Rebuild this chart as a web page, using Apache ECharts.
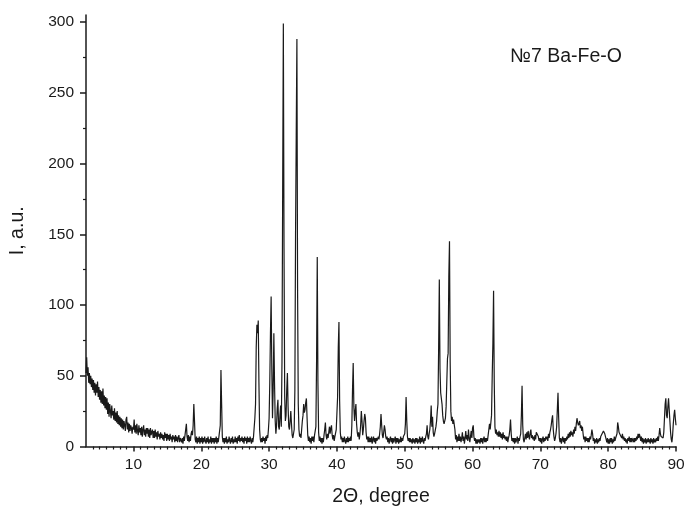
<!DOCTYPE html>
<html>
<head>
<meta charset="utf-8">
<script src="https://cdn.jsdelivr.net/npm/echarts@6/dist/echarts.min.js"></script>
<style>html,body{margin:0;padding:0;background:#fff}#c{width:685px;height:507px}</style>
</head>
<body>
<div id="c"></div>
<script>
// Measurement grid (2Θ, degree): regular scan step
const scanStart = 3.0;
const scanStep = 0.1;

// Intensity (a.u.), 10 values per degree
const intensity03to10 = [
  52,63,50,56,45,52,44,50,42,48,
  40,47,38,45,36,44,38,46,35,42,
  33,40,31,39,30,41,29,36,27,35,
  26,34,23,31,21,30,25,20,29,22,
  25,19,27,18,24,17,25,16,22,15,
  21,14,20,13,19,12,18,15,11,19,
  21,12,17,10,16,11,15,13,9,14
];
const intensity10to20 = [
  12,19,10,15,9,16,11,8,15,10,
  13,8,14,7,12,15,8,12,7,13,
  9,13,7,12,6,13,8,10,12,6,
  11,6,12,7,10,5,11,7,9,5,
  10,6,9,5,8,4,10,6,9,4,
  9,5,8,4,9,5,7,3,8,5,
  7,3,8,4,7,3,6,8,3,6,
  7,3,6,2,7,4,8,12,16,7,
  4,8,3,7,4,9,11,8,15,30,
  18,5,3,7,2,6,3,7,2,6
];
const intensity20to30 = [
  3,7,2,6,3,7,4,2,6,3,
  7,2,5,3,7,2,6,3,6,2,
  6,3,7,2,6,3,7,8,15,54,
  30,7,3,6,2,6,3,7,2,5,
  3,7,4,2,6,3,7,2,5,3,
  7,3,6,2,7,4,8,3,6,4,
  7,3,6,2,7,4,6,2,7,3,
  6,3,7,4,2,6,3,7,8,20,
  30,70,86,80,89,45,12,5,3,6,
  3,7,4,6,2,7,4,8,6,12
];
const intensity30to40 = [
  20,45,80,106,55,20,40,80,45,18,
  9,15,27,33,14,12,22,29,14,60,
  180,299,140,35,18,22,40,52,28,14,
  12,18,25,16,8,6,9,12,40,150,
  220,288,110,30,12,7,9,6,12,18,
  22,30,24,26,31,34,20,8,4,7,
  3,6,2,7,4,7,3,8,9,14,
  60,134,45,10,4,7,3,6,2,6,
  3,8,12,17,8,5,9,6,10,14,
  9,13,15,8,5,8,4,7,6,12
];
const intensity40to50 = [
  12,35,70,88,32,10,5,7,3,6,
  3,7,4,2,6,3,7,3,6,4,
  7,4,15,40,59,28,18,25,30,16,
  10,7,10,5,9,15,25,18,8,12,
  18,23,20,10,5,7,3,7,3,6,
  3,7,2,5,7,3,6,2,6,4,
  3,7,5,9,14,23,15,8,6,10,
  15,12,7,5,7,3,6,2,5,7,
  3,6,2,6,3,5,7,2,6,3,
  6,2,5,3,7,3,6,4,7,6
];
const intensity50to60 = [
  9,16,35,18,7,4,6,3,6,3,
  5,2,6,3,5,2,6,3,6,2,
  5,3,7,2,6,3,7,4,2,6,
  4,7,9,15,7,5,9,12,18,29,
  14,21,10,7,9,10,14,18,25,30,
  70,118,55,38,37,30,22,18,16,17,
  20,28,45,62,66,120,145,60,25,18,
  21,16,19,20,12,5,8,3,7,4,
  9,4,7,3,6,10,4,7,2,6,
  11,5,8,4,12,6,3,7,11,6
];
const intensity60to70 = [
  13,15,7,4,6,2,5,2,5,3,
  5,2,6,3,6,2,5,7,3,6,
  3,6,4,8,12,16,12,11,22,50,
  73,110,45,14,9,12,8,10,7,11,
  7,10,6,9,5,10,6,8,5,7,
  4,7,3,6,8,12,19,9,4,6,
  3,6,2,6,3,5,7,2,6,4,
  7,9,22,43,15,5,3,6,9,5,
  10,6,11,7,5,10,12,6,8,5,
  7,4,8,5,10,11,10,7,4,6
];
const intensity70to80 = [
  3,6,2,5,7,3,6,4,7,5,
  7,4,9,6,10,12,15,19,22,12,
  7,4,6,9,14,26,38,20,6,3,
  6,2,5,7,3,6,2,6,4,7,
  5,9,6,10,7,11,8,10,7,12,
  9,14,11,16,20,17,15,14,18,13,
  15,11,14,9,5,7,3,7,4,6,
  3,6,3,7,5,8,12,9,4,6,
  2,5,3,6,2,5,3,6,4,7,
  6,9,10,11,10,9,7,5,3,6
];
const intensity80to90 = [
  2,5,2,6,3,6,2,5,3,7,
  4,6,5,9,17,14,10,11,8,9,
  6,9,5,7,4,6,3,5,2,6,
  4,7,3,6,3,6,7,3,6,3,
  6,4,7,5,9,6,9,7,4,7,
  3,6,2,5,3,6,2,5,3,6,
  3,5,2,6,3,5,2,6,3,5,
  3,6,4,7,4,8,13,9,7,8,
  7,6,10,20,30,34,22,20,28,34,
  26,18,10,5,3,8,16,22,26,20,
  15
];

// Tick labels
const xMajorTicks = [10,20,30,40,50,60,70,80,90];
const xMinorTicks = [4,5,6,7,8,9,11,12,13,14,15,16,17,18,19,21,22,23,24,25,26,27,28,29,31,32,33,34,35,36,37,38,39,41,42,43,44,45,46,47,48,49,51,52,53,54,55,56,57,58,59,61,62,63,64,65,66,67,68,69,71,72,73,74,75,76,77,78,79,81,82,83,84,85,86,87,88,89];
const yMajorTicks = [0,50,100,150,200,250,300];
const yMinorTicks = [25,75,125,175,225,275];

const intensity = [].concat(intensity03to10, intensity10to20, intensity20to30, intensity30to40,
  intensity40to50, intensity50to60, intensity60to70, intensity70to80, intensity80to90);
const seriesData = intensity.map((v, i) => [Math.round((scanStart + i * scanStep) * 10) / 10, v]);

const FONT = "'Liberation Sans', Arial, sans-serif";
const INK = '#1a1a1a';
const axisLineStyle = { color: INK, width: 1.5 };

const chart = echarts.init(document.getElementById('c'), null, { renderer: 'canvas' });
chart.setOption({
  animation: false,
  backgroundColor: '#fff',
  title: {
    text: '№7 Ba-Fe-O',
    left: 505, top: 42,
    textStyle: { fontFamily: FONT, fontSize: 19.5, fontWeight: 'normal', color: INK }
  },
  grid: { left: 86, right: 9, top: 15, bottom: 60.5, containLabel: false, outerBoundsMode: 'none' },
  xAxis: [
    {
      type: 'value', min: 3, max: 90, position: 'bottom',
      name: '2Θ, degree', nameLocation: 'middle', nameGap: 40,
      nameTextStyle: { fontFamily: FONT, fontSize: 19.5, color: INK },
      axisLine: { show: true, onZero: false, lineStyle: axisLineStyle },
      axisTick: { show: true, customValues: xMajorTicks, length: 5, lineStyle: { color: INK, width: 1.5 } },
      axisLabel: { customValues: xMajorTicks, fontFamily: FONT, fontSize: 15.5, color: INK, margin: 10 },
      splitLine: { show: false }
    },
    {
      type: 'value', min: 3, max: 90, position: 'bottom',
      axisLine: { show: false, onZero: false },
      axisTick: { show: true, customValues: xMinorTicks, length: 3, lineStyle: { color: INK, width: 1.2 } },
      axisLabel: { show: false },
      splitLine: { show: false }
    }
  ],
  yAxis: [
    {
      type: 'value', min: 0, max: 305, position: 'left',
      name: 'I, a.u.', nameLocation: 'middle', nameGap: 58,
      nameTextStyle: { fontFamily: FONT, fontSize: 19.5, color: INK },
      axisLine: { show: true, onZero: false, lineStyle: axisLineStyle },
      axisTick: { show: true, customValues: yMajorTicks, length: 6, lineStyle: { color: INK, width: 1.5 } },
      axisLabel: { customValues: yMajorTicks, fontFamily: FONT, fontSize: 15.5, color: INK, margin: 12 },
      splitLine: { show: false }
    },
    {
      type: 'value', min: 0, max: 305, position: 'left',
      axisLine: { show: false, onZero: false },
      axisTick: { show: true, customValues: yMinorTicks, length: 3, lineStyle: { color: INK, width: 1.2 } },
      axisLabel: { show: false },
      splitLine: { show: false }
    }
  ],
  series: [{
    type: 'line',
    xAxisIndex: 0, yAxisIndex: 0,
    data: seriesData,
    showSymbol: false,
    symbol: 'none',
    lineStyle: { color: INK, width: 1.2 },
    clip: true
  }]
});
</script>
</body>
</html>
